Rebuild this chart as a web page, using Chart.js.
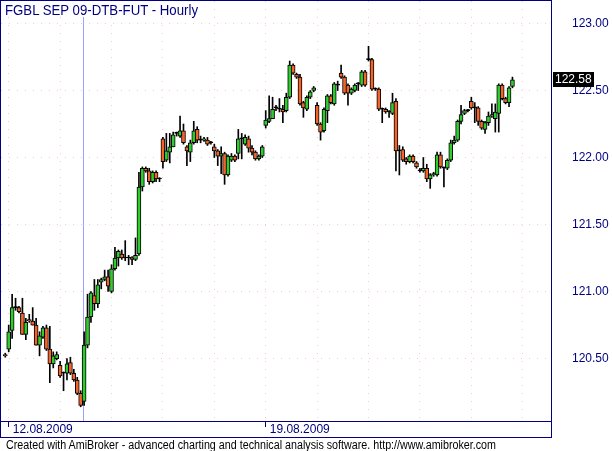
<!DOCTYPE html>
<html>
<head>
<meta charset="utf-8">
<title>FGBL SEP 09-DTB-FUT - Hourly</title>
<script src="https://cdn.jsdelivr.net/npm/chart.js@4.4.1/dist/chart.umd.min.js"></script>
<style>
  html, body { margin: 0; padding: 0; background: #fff; }
  #box { position: relative; width: 612px; height: 451px; overflow: hidden; }
  #chart { position: absolute; left: 0; top: 0; }
  .txt { position: absolute; white-space: nowrap; font-family: "Liberation Sans", Arial, sans-serif; transform-origin: 0 0; }
  #title { left: 5px; top: 1px; padding-top: 1px; font-size: 15px; line-height: 15px; color: #000080; background: #fff; }
  #footer { left: 6px; top: 439px; font-size: 12px; line-height: 12px; color: #000; }
</style>
</head>
<body>
<div id="box">
  <canvas id="chart" width="612" height="451"></canvas>
  <div id="title" class="txt">FGBL SEP 09-DTB-FUT - Hourly</div>
  <div id="footer" class="txt">Created with AmiBroker - advanced charting and technical analysis software. http://www.amibroker.com</div>
</div>
<script>
// hourly bars, 15 per trading day, first bar is the last one of 11.08
const opens = [
  120.53, 120.57, 120.71, 120.88, 120.88, 120.84, 120.68, 120.79, 120.78, 120.75,
  120.60, 120.66, 120.73, 120.57, 120.46, 120.50, 120.45, 120.39, 120.39, 120.47,
  120.39, 120.34, 120.24, 120.18, 120.60, 120.81, 120.97, 120.91, 121.07, 121.09,
  121.11, 121.00, 121.17, 121.25, 121.28, 121.25, 121.25, 121.25, 121.24, 121.28,
  121.78, 121.92, 121.90, 121.82, 121.89, 121.84, 122.14, 121.98, 122.04, 122.08,
  122.18, 122.16, 122.20, 122.08, 122.04, 122.11, 122.21, 122.13, 122.13, 122.13,
  122.11, 122.08, 122.05, 122.01, 122.03, 121.87, 121.98, 122.01, 122.03, 122.14,
  122.10, 122.14, 122.07, 122.04, 121.99, 122.01, 122.24, 122.27, 122.29, 122.37,
  122.36, 122.36, 122.35, 122.45, 122.69, 122.62, 122.60, 122.41, 122.36, 122.45,
  122.50, 122.39, 122.25, 122.20, 122.35, 122.46, 122.40, 122.54, 122.63, 122.60,
  122.54, 122.48, 122.50, 122.55, 122.54, 122.64, 122.73, 122.73, 122.51, 122.51,
  122.36, 122.36, 122.34, 122.33, 122.42, 122.05, 122.06, 121.99, 121.97, 122.01,
  121.96, 121.90, 121.90, 121.92, 121.84, 121.87, 121.87, 122.02, 121.92, 121.92,
  121.98, 122.11, 122.13, 122.27, 122.33, 122.35, 122.42, 122.37, 122.37, 122.27,
  122.21, 122.26, 122.31, 122.29, 122.33, 122.54, 122.44, 122.41, 122.53
];
const highs = [
  120.54, 120.75, 120.98, 120.95, 120.89, 120.95, 120.80, 120.83, 120.88, 120.80,
  120.70, 120.74, 120.75, 120.74, 120.55, 120.55, 120.48, 120.40, 120.50, 120.51,
  120.42, 120.36, 120.26, 120.70, 120.98, 121.00, 121.09, 121.09, 121.10, 121.16,
  121.16, 121.20, 121.33, 121.31, 121.31, 121.38, 121.27, 121.26, 121.40, 121.89,
  121.93, 121.93, 121.92, 121.90, 121.90, 121.85, 122.15, 122.18, 122.18, 122.19,
  122.19, 122.31, 122.25, 122.09, 122.13, 122.27, 122.23, 122.16, 122.15, 122.15,
  122.12, 122.10, 122.06, 122.08, 122.04, 122.02, 122.03, 122.02, 122.21, 122.18,
  122.17, 122.16, 122.09, 122.05, 122.02, 122.09, 122.35, 122.46, 122.45, 122.39,
  122.44, 122.39, 122.48, 122.72, 122.70, 122.63, 122.62, 122.42, 122.46, 122.50,
  122.53, 122.41, 122.26, 122.37, 122.47, 122.47, 122.56, 122.57, 122.69, 122.61,
  122.55, 122.52, 122.55, 122.56, 122.65, 122.65, 122.83, 122.74, 122.52, 122.52,
  122.37, 122.37, 122.35, 122.48, 122.44, 122.09, 122.08, 122.00, 122.02, 122.02,
  121.97, 121.92, 122.00, 121.95, 121.88, 121.89, 122.04, 122.04, 121.93, 121.99,
  122.13, 122.16, 122.28, 122.39, 122.36, 122.36, 122.45, 122.41, 122.38, 122.28,
  122.27, 122.34, 122.40, 122.40, 122.55, 122.55, 122.45, 122.53, 122.60
];
const lows = [
  120.51, 120.55, 120.65, 120.86, 120.84, 120.68, 120.64, 120.77, 120.75, 120.60,
  120.52, 120.65, 120.56, 120.32, 120.43, 120.49, 120.36, 120.26, 120.34, 120.38,
  120.33, 120.23, 120.14, 120.15, 120.58, 120.77, 120.86, 120.88, 121.02, 121.08,
  121.00, 120.99, 121.16, 121.19, 121.24, 121.23, 121.20, 121.20, 121.23, 121.27,
  121.75, 121.89, 121.80, 121.81, 121.82, 121.82, 121.92, 121.97, 121.96, 122.08,
  122.16, 122.15, 122.10, 121.94, 121.97, 122.10, 122.11, 122.11, 122.12, 122.09,
  122.10, 122.00, 121.94, 121.88, 121.80, 121.86, 121.97, 121.97, 121.99, 121.99,
  122.09, 122.04, 122.02, 121.98, 121.98, 122.00, 122.22, 122.26, 122.29, 122.35,
  122.34, 122.26, 122.34, 122.44, 122.62, 122.59, 122.39, 122.30, 122.35, 122.44,
  122.49, 122.24, 122.13, 122.19, 122.26, 122.40, 122.39, 122.50, 122.59, 122.47,
  122.39, 122.47, 122.49, 122.50, 122.53, 122.53, 122.72, 122.50, 122.50, 122.35,
  122.26, 122.33, 122.30, 122.32, 121.90, 121.87, 121.97, 121.95, 121.96, 121.96,
  121.92, 121.89, 121.89, 121.82, 121.77, 121.86, 121.86, 121.92, 121.78, 121.91,
  121.97, 122.10, 122.12, 122.25, 122.32, 122.34, 122.36, 122.26, 122.24, 122.21,
  122.18, 122.24, 122.30, 122.19, 122.19, 122.43, 122.40, 122.38, 122.52
];
const closes = [
  120.52, 120.70, 120.88, 120.88, 120.85, 120.68, 120.77, 120.78, 120.75, 120.60,
  120.67, 120.73, 120.57, 120.46, 120.52, 120.53, 120.37, 120.39, 120.46, 120.39,
  120.34, 120.24, 120.15, 120.60, 120.81, 120.99, 120.91, 121.05, 121.09, 121.11,
  121.04, 121.17, 121.25, 121.30, 121.25, 121.25, 121.25, 121.24, 121.27, 121.78,
  121.92, 121.90, 121.82, 121.89, 121.84, 121.84, 121.97, 122.05, 122.08, 122.17,
  122.18, 122.20, 122.11, 122.05, 122.11, 122.20, 122.13, 122.13, 122.14, 122.10,
  122.11, 122.05, 122.01, 122.03, 121.87, 122.01, 122.01, 121.98, 122.14, 122.14,
  122.15, 122.07, 122.04, 121.99, 122.01, 122.08, 122.28, 122.29, 122.36, 122.37,
  122.36, 122.34, 122.45, 122.69, 122.63, 122.60, 122.40, 122.37, 122.45, 122.49,
  122.52, 122.25, 122.19, 122.36, 122.46, 122.41, 122.55, 122.54, 122.60, 122.48,
  122.48, 122.51, 122.54, 122.55, 122.64, 122.54, 122.73, 122.51, 122.51, 122.36,
  122.36, 122.34, 122.34, 122.41, 122.05, 122.05, 121.98, 121.97, 122.01, 121.97,
  121.93, 121.90, 121.92, 121.84, 121.87, 121.88, 122.02, 121.93, 121.92, 121.98,
  122.11, 122.13, 122.27, 122.32, 122.35, 122.35, 122.37, 122.37, 122.27, 122.22,
  122.26, 122.31, 122.32, 122.34, 122.54, 122.44, 122.41, 122.52, 122.58
];

// first bar of each trading day (vertical grid), and the labelled ones
const dayStarts = [1, 16, 31, 46, 61, 76, 91, 106, 121, 136, 151];
const dateBars = [1, 76];
const dateLabels = ['12.08.2009', '19.08.2009'];
const priceTicks = [120.5, 121.0, 121.5, 122.0, 122.5, 123.0];
const cursorBar = 23;

const NAVY = '#000080';
const GRID = '#f4c8d6';
const UP = '#2ecc2e';
const DOWN = '#f2642a';
const FONT = { family: '"Liberation Sans", Arial, sans-serif', size: 12 };

const bodies = closes.map((c, i) => ({ x: i, y: [opens[i], c] }));
const wicks = highs.map((h, i) => ({ x: i, y: [lows[i], h] }));
const bodyColors = closes.map((c, i) => c > opens[i] ? UP : (c < opens[i] ? DOWN : '#000000'));

// frame, cursor line and last price box, like AmiBroker draws them
const amiPlugin = {
  id: 'ami',
  beforeDatasetsDraw(chart) {
    const { ctx, chartArea, scales } = chart;
    const x = Math.round(scales.x.getPixelForValue(cursorBar)) - 0.5;
    ctx.save();
    ctx.strokeStyle = '#a0a0ff';
    ctx.lineWidth = 1;
    ctx.beginPath();
    ctx.moveTo(x, chartArea.top);
    ctx.lineTo(x, chartArea.bottom);
    ctx.stroke();
    ctx.restore();
  },
  afterDraw(chart) {
    const { ctx, chartArea, scales } = chart;
    ctx.save();
    ctx.strokeStyle = NAVY;
    ctx.lineWidth = 1;
    ctx.strokeRect(0.5, 0.5, chartArea.right, 437);
    ctx.beginPath();
    ctx.moveTo(0, chartArea.bottom + 0.5);
    ctx.lineTo(chartArea.right + 1, chartArea.bottom + 0.5);
    ctx.stroke();

    const last = closes[closes.length - 1];
    const y = Math.round(scales.y.getPixelForValue(last));
    ctx.fillStyle = '#000';
    ctx.fillRect(chartArea.right + 2, y - 8, 41, 15);
    ctx.fillStyle = '#fff';
    ctx.font = '12px "Liberation Sans", Arial, sans-serif';
    ctx.textBaseline = 'middle';
    ctx.fillText(last.toFixed(2), chartArea.right + 4, y);
    ctx.restore();
  }
};

new Chart(document.getElementById('chart'), {
  type: 'bar',
  data: {
    datasets: [
      {
        data: wicks,
        backgroundColor: '#000',
        barThickness: 1,
        grouped: false,
        order: 2
      },
      {
        data: bodies,
        backgroundColor: bodyColors,
        borderColor: '#000',
        borderWidth: 1,
        borderSkipped: false,
        barThickness: 4,
        minBarLength: 1,
        grouped: false,
        order: 1
      }
    ]
  },
  options: {
    responsive: false,
    devicePixelRatio: 1,
    animation: false,
    events: [],
    layout: { padding: { left: 1, top: 1, right: 0, bottom: 0 } },
    plugins: { legend: { display: false }, tooltip: { enabled: false }, title: { display: false } },
    scales: {
      x: {
        type: 'linear',
        min: -1.25,
        max: 159.25,
        offset: false,
        bounds: 'data',
        afterBuildTicks: s => { s.ticks = dayStarts.map(v => ({ value: v })); },
        afterFit: s => { s.height = 30; s.paddingLeft = 0; s.paddingRight = 0; },
        grid: {
          offset: false,
          color: GRID,
          drawTicks: true,
          tickLength: 6,
          tickWidth: 1,
          tickBorderDash: [],
          tickColor: c => (c.tick && dateBars.includes(c.tick.value)) ? NAVY : 'rgba(0,0,0,0)'
        },
        border: { display: false, dash: [1, 7] },
        ticks: {
          autoSkip: false,
          maxRotation: 0,
          align: 'start',
          labelOffset: 4,
          padding: -5,
          color: NAVY,
          font: FONT,
          callback: v => { const k = dateBars.indexOf(v); return k >= 0 ? dateLabels[k] : ''; }
        }
      },
      y: {
        position: 'right',
        min: 120.034,
        max: 123.168,
        bounds: 'data',
        afterBuildTicks: s => { s.ticks = priceTicks.map(v => ({ value: v })); },
        // the label padding must not push the plot down from the top
        afterFit: s => { s.width = 61; s.paddingTop = 0; s.paddingBottom = 0; },
        grid: { color: GRID, drawTicks: false },
        border: { display: false, dash: [1, 7] },
        ticks: { padding: 21, color: NAVY, font: FONT, callback: v => v.toFixed(2) }
      }
    }
  },
  plugins: [amiPlugin]
});

// squeeze the html texts to the width they take in the original
function fitWidth(id, w) {
  const el = document.getElementById(id);
  el.style.transform = 'scaleX(' + (w / el.getBoundingClientRect().width) + ')';
}
fitWidth('title', 193);
fitWidth('footer', 490);
</script>
</body>
</html>
